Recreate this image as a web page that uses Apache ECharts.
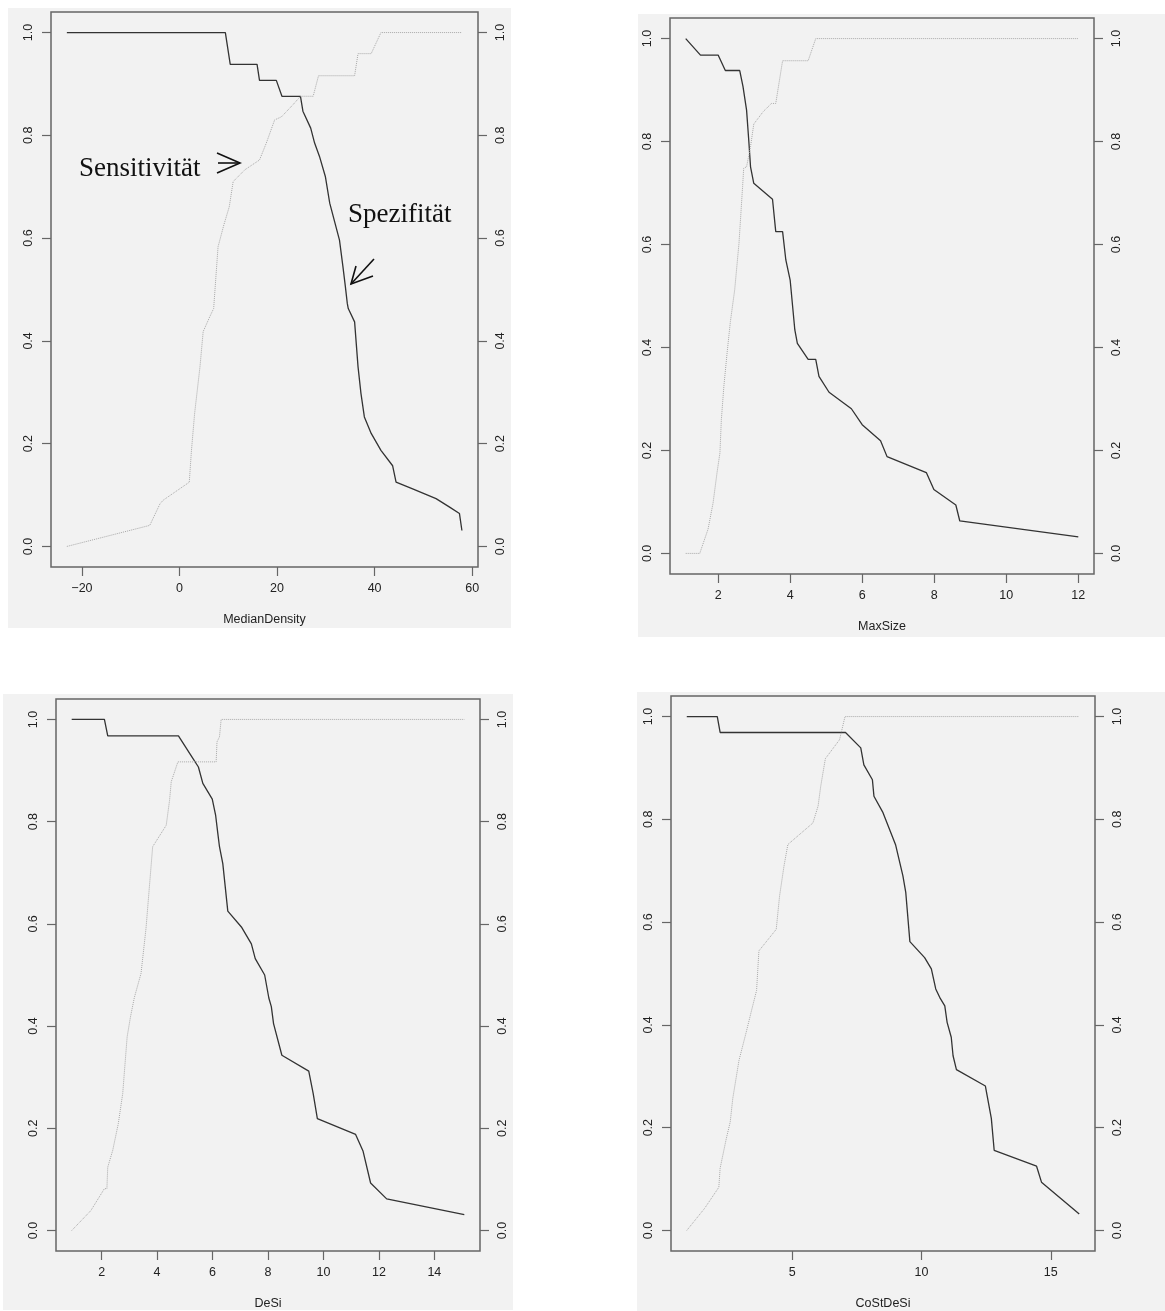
<!DOCTYPE html>
<html>
<head>
<meta charset="utf-8">
<script src="https://cdn.jsdelivr.net/npm/echarts@6/dist/echarts.min.js"></script>
<style>
html,body{margin:0;padding:0;background:#ffffff;}
#chart{width:1165px;height:1311px;}
</style>
</head>
<body>
<div id="chart"></div>
<script>
// ---------- data ----------
const panelNames = ['MedianDensity', 'MaxSize', 'DeSi', 'CoStDeSi'];
const yTicks = [0, 0.2, 0.4, 0.6, 0.8, 1.0];
const xTicksMedianDensity = [-20, 0, 20, 40, 60];
const xTicksMaxSize = [2, 4, 6, 8, 10, 12];
const xTicksDeSi = [2, 4, 6, 8, 10, 12, 14];
const xTicksCoStDeSi = [5, 10, 15];

const medianDensitySpez = [[-23.1,1.0],[9.4,1.0],[10.4,0.938],[15.9,0.938],[16.4,0.907],[19.85,0.907],[21.0,0.876],[24.8,0.876],[25.3,0.847],[26.9,0.814],[27.7,0.785],[28.7,0.759],[29.9,0.72],[30.8,0.668],[32.8,0.596],[33.5,0.545],[34.0,0.506],[34.4,0.473],[34.6,0.463],[35.9,0.437],[36.6,0.35],[37.2,0.298],[37.9,0.252],[39.3,0.22],[41.3,0.187],[43.7,0.157],[44.4,0.125],[47.8,0.112],[52.6,0.093],[55.3,0.077],[57.4,0.064],[57.9,0.031]];
const medianDensitySens = [[-23.1,0],[-6.1,0.041],[-4.0,0.083],[-3.35,0.09],[2.0,0.125],[2.45,0.187],[3.1,0.259],[4.2,0.35],[4.85,0.418],[6.2,0.447],[7.0,0.463],[7.9,0.583],[9.1,0.626],[10.2,0.661],[11.0,0.71],[13.4,0.733],[16.4,0.752],[17.8,0.785],[19.5,0.83],[20.9,0.836],[23.3,0.86],[24.8,0.876],[27.4,0.876],[28.5,0.916],[35.9,0.916],[36.6,0.959],[39.3,0.959],[41.3,1.0],[57.9,1.0]];

const maxSizeSpez = [[1.1,1.0],[1.51,0.968],[2.0,0.968],[2.2,0.938],[2.6,0.938],[2.69,0.907],[2.79,0.861],[2.85,0.803],[2.9,0.751],[2.99,0.719],[3.51,0.688],[3.6,0.625],[3.79,0.625],[3.88,0.57],[4.0,0.531],[4.13,0.434],[4.2,0.408],[4.5,0.377],[4.71,0.377],[4.8,0.344],[5.08,0.313],[5.7,0.281],[6.0,0.25],[6.51,0.219],[6.69,0.188],[7.78,0.157],[7.99,0.124],[8.6,0.094],[8.71,0.063],[12.0,0.032]];
const maxSizeSens = [[1.1,0],[1.49,0],[1.72,0.047],[1.86,0.098],[1.97,0.157],[2.05,0.195],[2.09,0.26],[2.16,0.325],[2.25,0.39],[2.34,0.45],[2.46,0.512],[2.58,0.603],[2.68,0.713],[2.71,0.748],[2.79,0.751],[2.9,0.79],[2.99,0.834],[3.25,0.858],[3.48,0.874],[3.6,0.874],[3.79,0.957],[4.5,0.957],[4.71,1.0],[12.0,1.0]];

const deSiSpez = [[0.92,1.0],[2.1,1.0],[2.22,0.968],[4.77,0.968],[5.29,0.924],[5.49,0.907],[5.65,0.875],[5.99,0.844],[6.11,0.813],[6.19,0.777],[6.25,0.751],[6.37,0.718],[6.55,0.625],[7.04,0.594],[7.4,0.561],[7.54,0.532],[7.88,0.5],[8.03,0.455],[8.12,0.438],[8.2,0.405],[8.5,0.343],[9.47,0.312],[9.63,0.268],[9.78,0.219],[11.16,0.188],[11.43,0.155],[11.7,0.093],[12.28,0.062],[15.08,0.031]];
const deSiSens = [[0.92,0],[1.61,0.039],[2.1,0.082],[2.19,0.082],[2.22,0.124],[2.4,0.157],[2.6,0.209],[2.76,0.268],[2.92,0.379],[3.04,0.418],[3.18,0.456],[3.42,0.503],[3.6,0.591],[3.84,0.751],[4.33,0.793],[4.45,0.842],[4.51,0.878],[4.75,0.917],[6.13,0.917],[6.16,0.956],[6.25,0.966],[6.31,1.0],[15.08,1.0]];

const coStDeSiSpez = [[0.92,1.0],[2.1,1.0],[2.21,0.969],[7.06,0.969],[7.65,0.939],[7.77,0.906],[8.1,0.877],[8.16,0.845],[8.51,0.813],[9.0,0.75],[9.28,0.69],[9.39,0.658],[9.55,0.562],[10.12,0.531],[10.38,0.509],[10.55,0.47],[10.73,0.451],[10.9,0.437],[10.99,0.405],[11.15,0.376],[11.22,0.34],[11.35,0.313],[12.47,0.281],[12.7,0.218],[12.81,0.156],[14.45,0.125],[14.64,0.094],[16.1,0.032]];
const coStDeSiSens = [[0.92,0],[1.61,0.043],[2.16,0.084],[2.21,0.121],[2.45,0.179],[2.6,0.211],[2.7,0.257],[2.94,0.331],[3.22,0.386],[3.41,0.425],[3.62,0.467],[3.71,0.544],[4.38,0.586],[4.51,0.651],[4.68,0.709],[4.83,0.751],[5.8,0.793],[6.0,0.826],[6.1,0.864],[6.28,0.918],[6.83,0.955],[7.04,1.0],[16.1,1.0]];

const annotationTexts = ['Sensitivität', 'Spezifität'];

// ---------- layout ----------
const panels = [
  {name: panelNames[0], ticks: xTicksMedianDensity, min: -26.35, max: 61.2, spez: medianDensitySpez, sens: medianDensitySens,
   grid: {left: 51, top: 12, width: 427, height: 555}, bg: [8, 8, 503, 620]},
  {name: panelNames[1], ticks: xTicksMaxSize, min: 0.664, max: 12.436, spez: maxSizeSpez, sens: maxSizeSens,
   grid: {left: 670, top: 18, width: 424, height: 556}, bg: [638, 14, 527, 623]},
  {name: panelNames[2], ticks: xTicksDeSi, min: 0.354, max: 15.646, spez: deSiSpez, sens: deSiSens,
   grid: {left: 56, top: 699, width: 424, height: 552}, bg: [3, 694, 510, 616]},
  {name: panelNames[3], ticks: xTicksCoStDeSi, min: 0.31, max: 16.71, spez: coStDeSiSpez, sens: coStDeSiSens,
   grid: {left: 671, top: 696, width: 424, height: 557}, bg: [637, 692, 528, 619]}
];

const FONT = 'Liberation Sans, Arial, sans-serif';
const TXT = '#222';
const AX = '#666';

const grids = [], xAxes = [], yAxes = [], series = [], graphics = [];

panels.forEach((p, i) => {
  graphics.push({type: 'rect', silent: true, z: -10,
    shape: {x: p.bg[0], y: p.bg[1], width: p.bg[2], height: p.bg[3]},
    style: {fill: '#f2f2f2'}});
  grids.push(Object.assign({show: true, backgroundColor: 'transparent', borderColor: AX, borderWidth: 1.5}, p.grid));
  xAxes.push({
    type: 'value', gridIndex: i, min: p.min, max: p.max, position: 'bottom',
    name: p.name, nameLocation: 'middle', nameGap: 46,
    nameTextStyle: {fontFamily: FONT, fontSize: 12.5, color: TXT},
    axisLine: {show: false, onZero: false}, splitLine: {show: false},
    axisTick: {show: true, inside: false, length: 9, lineStyle: {color: AX, width: 1.2}, customValues: p.ticks},
    axisLabel: {show: true, margin: 15, fontFamily: FONT, fontSize: 12.5, color: TXT,
      customValues: p.ticks, formatter: v => (v < 0 ? '\u2212' + Math.abs(v) : String(v))}
  });
  ['left', 'right'].forEach(pos => {
    yAxes.push({
      type: 'value', gridIndex: i, min: -0.04, max: 1.04, position: pos,
      axisLine: {show: false, onZero: false}, splitLine: {show: false},
      axisTick: {show: true, inside: false, length: 9, lineStyle: {color: AX, width: 1.2}, customValues: yTicks},
      axisLabel: {show: true, rotate: 90, margin: 16, fontFamily: FONT, fontSize: 12.5, color: TXT,
        customValues: yTicks, formatter: v => v.toFixed(1)}
    });
  });
  series.push({
    name: annotationTexts[1], type: 'line', xAxisIndex: i, yAxisIndex: 2 * i, data: p.spez,
    showSymbol: false, symbol: 'none', silent: true, animation: false,
    lineStyle: {color: '#333', width: 1.3, type: 'solid'}
  });
  series.push({
    name: annotationTexts[0], type: 'line', xAxisIndex: i, yAxisIndex: 2 * i, data: p.sens,
    showSymbol: false, symbol: 'none', silent: true, animation: false,
    lineStyle: {color: '#a8a8a8', width: 1, type: 'dotted'}
  });
});

// annotations in the first panel
const SERIF = 'Liberation Serif, Times New Roman, serif';
graphics.push({type: 'text', silent: true, z: 10, x: 79, y: 169,
  style: {text: annotationTexts[0], font: '27px ' + SERIF, fill: '#111', verticalAlign: 'middle', align: 'left'}});
graphics.push({type: 'text', silent: true, z: 10, x: 348, y: 215,
  style: {text: annotationTexts[1], font: '27px ' + SERIF, fill: '#111', verticalAlign: 'middle', align: 'left'}});
const arrowStyle = {stroke: '#111', lineWidth: 1.6, fill: null};
graphics.push({type: 'polyline', silent: true, z: 10, shape: {points: [[218, 163], [240, 163]]}, style: arrowStyle});
graphics.push({type: 'polyline', silent: true, z: 10, shape: {points: [[217, 153], [240, 163], [217, 173]]}, style: arrowStyle});
graphics.push({type: 'polyline', silent: true, z: 10, shape: {points: [[374, 259], [351, 284]]}, style: arrowStyle});
graphics.push({type: 'polyline', silent: true, z: 10, shape: {points: [[356, 266], [351, 284], [373, 276]]}, style: arrowStyle});

const chart = echarts.init(document.getElementById('chart'), null, {renderer: 'canvas'});
chart.setOption({
  backgroundColor: '#ffffff',
  animation: false,
  grid: grids,
  xAxis: xAxes,
  yAxis: yAxes,
  series: series,
  graphic: graphics
});
</script>
</body>
</html>
